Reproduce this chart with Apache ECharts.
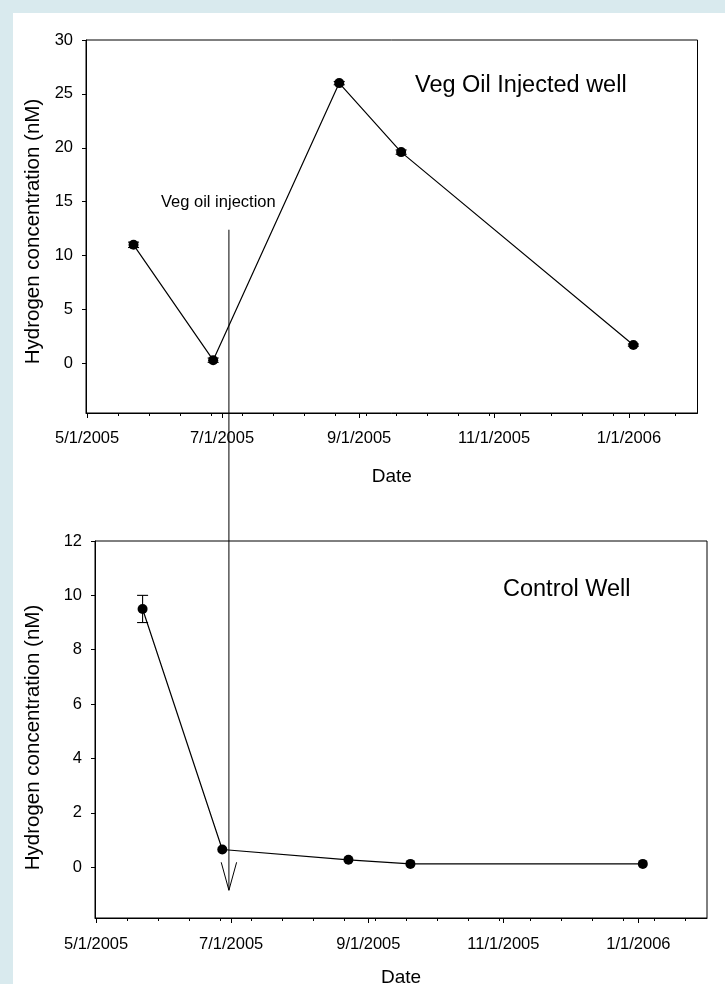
<!DOCTYPE html>
<html><head><meta charset="utf-8">
<script src="https://cdn.jsdelivr.net/npm/echarts@6/dist/echarts.min.js"></script>
<style>html,body{margin:0;padding:0;background:#fff}#c{width:725px;height:984px}</style>
</head><body><div id="c"></div>
<script>
// ---- data ----
const injectedDates = ['2005-05-22','2005-06-27','2005-08-23','2005-09-20','2006-01-03'];
const injectedH2    = [11.0, 0.3, 26.0, 19.6, 1.7];
const injectedErr   = [0.25, 0.2, 0.15, 0.2, 0.1];
const controlDates  = ['2005-05-22','2005-06-27','2005-08-23','2005-09-20','2006-01-03'];
const controlH2     = [9.5, 0.65, 0.27, 0.12, 0.12];
const controlErr    = [0.5, 0, 0, 0, 0];
const xLabelDates   = ['2005-05-01','2005-07-01','2005-09-01','2005-11-01','2006-01-01'];
const xMinorTickDates = ['2005-05-15','2005-05-29','2005-06-12','2005-06-26','2005-07-10','2005-07-24',
  '2005-08-07','2005-08-21','2005-09-04','2005-09-18','2005-10-02','2005-10-16','2005-10-30',
  '2005-11-13','2005-11-27','2005-12-11','2005-12-25','2006-01-08','2006-01-22'];
const injectedYTicks = [0,5,10,15,20,25,30];
const controlYTicks  = [0,2,4,6,8,10,12];
const xRange = ['2005-04-30T12:00:00Z','2006-02-01T00:00:00Z'];
const injectedYRange = [-4.6, 30];
const controlYRange  = [-1.87, 12];
const injectionDate = '2005-06-30';
const arrowTopValue = 12.4;   // on injected-well axis
const arrowTipValue = -0.85;  // on control-well axis

const t = s => Date.parse(s.length > 10 ? s : s + 'T00:00:00Z');
const fmtDate = v => { const d = new Date(v); return (d.getUTCMonth()+1) + '/' + d.getUTCDate() + '/' + d.getUTCFullYear(); };
const FONT = 'Liberation Sans, Arial, sans-serif';

function xMajor(gi, margin, nameGap){
  return {type:'value', gridIndex:gi, min:t(xRange[0]), max:t(xRange[1]), position:'bottom', scale:true,
    axisLine:{show:true, onZero:false, lineStyle:{color:'#000', width:1}},
    axisTick:{show:true, length:5, lineStyle:{color:'#000', width:1}, customValues: xLabelDates.map(t)},
    axisLabel:{customValues: xLabelDates.map(t), formatter: v => fmtDate(v), fontSize:16.5, color:'#000', margin:margin, fontFamily:FONT, hideOverlap:false, showMinLabel:true, showMaxLabel:true},
    splitLine:{show:false},
    name:'Date', nameLocation:'middle', nameGap:nameGap, nameTextStyle:{fontSize:19, color:'#000', fontFamily:FONT}};
}
function xMinor(gi){
  return {type:'value', gridIndex:gi, min:t(xRange[0]), max:t(xRange[1]), position:'bottom', scale:true,
    axisLine:{show:false, onZero:false},
    axisTick:{show:true, length:3, lineStyle:{color:'#000', width:1}, customValues: xMinorTickDates.map(t)},
    axisLabel:{show:false}, splitLine:{show:false}};
}
function yAx(gi, range, ticks, gap, pad){
  return {type:'value', gridIndex:gi, min:range[0], max:range[1],
    axisLine:{show:true, onZero:false, lineStyle:{color:'#000', width:1}},
    axisTick:{show:true, length:4, lineStyle:{color:'#000'}, customValues: ticks},
    axisLabel:{customValues: ticks, fontSize:16.5, color:'#000', margin:13, fontFamily:FONT},
    splitLine:{show:false},
    name:'Hydrogen concentration (nM)', nameLocation:'middle', nameGap:gap,
    nameTextStyle:{fontSize:20.5, color:'#000', fontFamily:FONT, padding:[0,pad,0,0]}};
}
function renderErr(params, api){
  const x = api.value(0), lo = api.value(1), hi = api.value(2);
  if (!(hi - lo > 0)) return null;
  const p1 = api.coord([x, hi]), p2 = api.coord([x, lo]);
  const w = 5.5, st = {stroke:'#000', lineWidth:1.1};
  return {type:'group', children:[
    {type:'line', shape:{x1:p1[0], y1:p1[1], x2:p2[0], y2:p2[1]}, style:st},
    {type:'line', shape:{x1:p1[0]-w, y1:p1[1], x2:p1[0]+w, y2:p1[1]}, style:st},
    {type:'line', shape:{x1:p2[0]-w, y1:p2[1], x2:p2[0]+w, y2:p2[1]}, style:st}]};
}
function lineSeries(dates, vals, xi, yi){
  return {type:'line', xAxisIndex:xi, yAxisIndex:yi, data: dates.map((d,i)=>[t(d), vals[i]]),
    symbol:'circle', symbolSize:10, itemStyle:{color:'#000'}, lineStyle:{color:'#000', width:1.2},
    z:3, animation:false};
}
function errSeries(dates, vals, errs, xi, yi){
  return {type:'custom', xAxisIndex:xi, yAxisIndex:yi, renderItem:renderErr,
    encode:{x:0, y:[1,2]}, data: dates.map((d,i)=>[t(d), vals[i]-errs[i], vals[i]+errs[i]]),
    z:2, animation:false, silent:true};
}

const chart = echarts.init(document.getElementById('c'), null, {renderer:'canvas'});
const option = {
  animation:false,
  backgroundColor:'#fff',
  textStyle:{fontFamily:FONT},
  grid:[
    {left:86, top:40, width:611.5, height:373, show:true, borderColor:'#000', borderWidth:1, backgroundColor:'transparent', containLabel:false, outerBoundsMode:'none'},
    {left:95, top:541, width:612, height:377, show:true, borderColor:'#000', borderWidth:1, backgroundColor:'transparent', containLabel:false, outerBoundsMode:'none'}
  ],
  xAxis:[xMajor(0, 17, 54), xMinor(0), xMajor(1, 18, 50), xMinor(1)],
  yAxis:[yAx(0, injectedYRange, injectedYTicks, 42, 10), yAx(1, controlYRange, controlYTicks, 51, 16)],
  series:[
    errSeries(injectedDates, injectedH2, injectedErr, 0, 0),
    lineSeries(injectedDates, injectedH2, 0, 0),
    errSeries(controlDates, controlH2, controlErr, 2, 1),
    lineSeries(controlDates, controlH2, 2, 1)
  ],
  graphic:[
    {type:'rect', id:'bgL', shape:{x:0, y:0, width:13, height:984}, style:{fill:'#d9eaee'}, z:-10, silent:true},
    {type:'rect', id:'bgT', shape:{x:0, y:0, width:725, height:13}, style:{fill:'#d9eaee'}, z:-10, silent:true},
    {type:'text', id:'t1', x:415, y:86, style:{text:'Veg Oil Injected well', font:'23.5px ' + FONT, fill:'#000', textAlign:'left', textVerticalAlign:'middle'}},
    {type:'text', id:'t2', x:503, y:590, style:{text:'Control Well', font:'23.5px ' + FONT, fill:'#000', textAlign:'left', textVerticalAlign:'middle'}},
    {type:'text', id:'t3', x:161, y:202, style:{text:'Veg oil injection', font:'16.5px ' + FONT, fill:'#000', textAlign:'left', textVerticalAlign:'middle'}}
  ]
};
chart.setOption(option);

const ax = chart.convertToPixel({xAxisIndex:2}, t(injectionDate));
const ay0 = chart.convertToPixel({yAxisIndex:0}, arrowTopValue);
const ay1 = chart.convertToPixel({yAxisIndex:1}, arrowTipValue);
chart.setOption({graphic:[
  {type:'line', id:'arrowShaft', shape:{x1:ax, y1:ay0, x2:ax, y2:ay1}, style:{stroke:'#000', lineWidth:1}, z:5},
  {type:'polyline', id:'arrowHead', shape:{points:[[ax-7.7, ay1-28],[ax, ay1],[ax+7.7, ay1-28]]}, style:{stroke:'#000', lineWidth:1, fill:null}, z:5}
]});
</script>
</body></html>
